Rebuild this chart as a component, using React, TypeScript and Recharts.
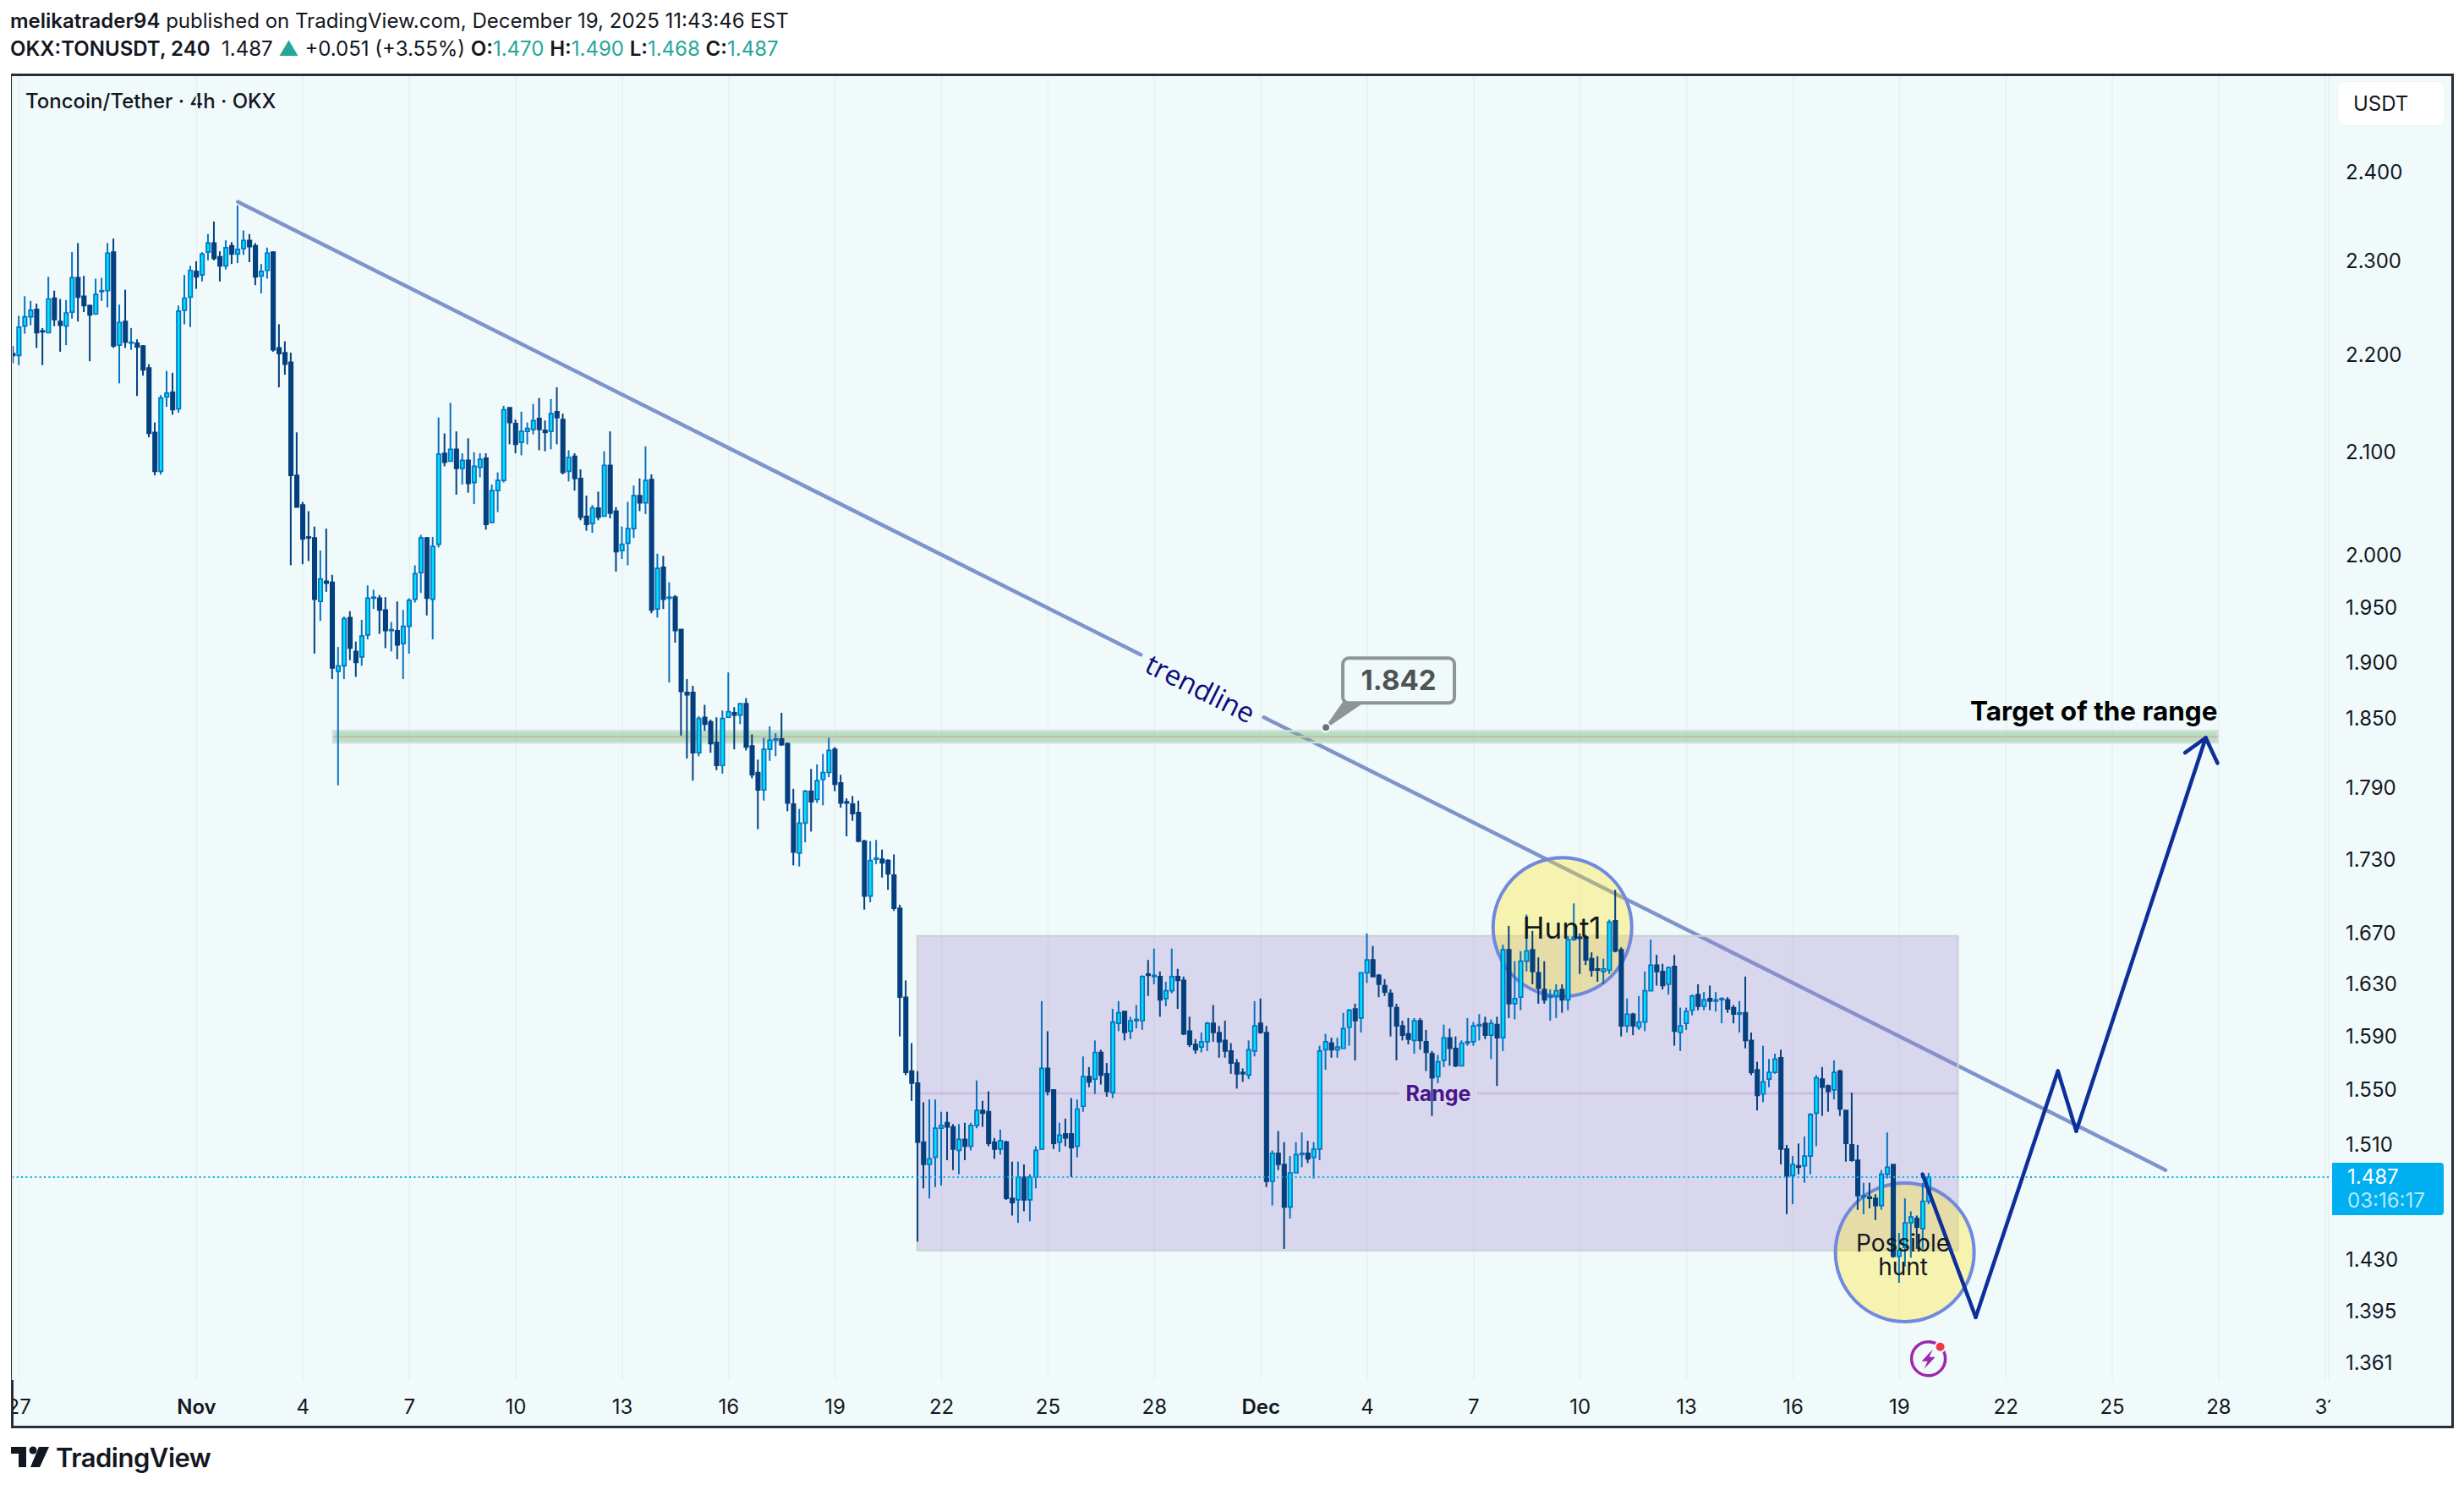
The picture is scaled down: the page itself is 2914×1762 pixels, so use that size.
import React from 'react';
import {
    ComposedChart,
    Bar,
    Cell,
    XAxis,
    YAxis,
    CartesianGrid,
    ReferenceArea,
    ReferenceDot,
    ReferenceLine,
} from 'recharts';

// 4h bars, counted from the Nov 1 open (bar 0). First bar on screen is -31.
const firstBar = -31;

const opens = [
    2.201,2.199,2.230,2.240,2.248,2.225,2.223,2.260,2.235,2.230,
    2.245,2.282,2.262,2.252,2.243,2.267,2.268,2.310,2.210,2.235,
    2.212,2.212,2.209,2.186,2.120,2.081,2.156,2.161,2.144,2.247,
    2.261,2.289,2.285,2.310,2.320,2.305,2.295,2.317,2.308,2.314,
    2.323,2.317,2.284,2.290,2.310,2.207,2.202,2.192,2.077,2.048,
    2.017,2.016,1.956,1.975,1.974,1.892,1.897,1.941,1.910,1.905,
    1.925,1.959,1.959,1.948,1.929,1.929,1.917,1.933,1.958,1.983,
    2.016,1.958,2.010,2.099,2.091,2.103,2.084,2.092,2.070,2.085,
    2.094,2.031,2.062,2.072,2.145,2.129,2.110,2.121,2.123,2.134,
    2.122,2.121,2.141,2.133,2.081,2.096,2.074,2.037,2.030,2.045,
    2.037,2.087,2.042,2.004,2.011,2.025,2.057,2.050,2.073,1.949,
    1.988,1.959,1.960,1.930,1.873,1.873,1.820,1.851,1.847,1.829,
    1.809,1.851,1.855,1.853,1.863,1.826,1.803,1.788,1.823,1.831,
    1.832,1.828,1.776,1.735,1.760,1.787,1.780,1.797,1.803,1.823,
    1.794,1.778,1.776,1.769,1.745,1.700,1.730,1.730,1.729,1.717,
    1.690,1.620,1.564,1.555,1.512,1.496,1.501,1.522,1.526,1.523,
    1.506,1.514,1.509,1.524,1.535,1.534,1.512,1.507,1.512,1.472,
    1.471,1.487,1.471,1.487,1.507,1.566,1.550,1.512,1.518,1.518,
    1.509,1.538,1.560,1.558,1.578,1.562,1.548,1.600,1.609,1.594,
    1.602,1.602,1.638,1.636,1.636,1.619,1.625,1.636,1.633,1.594,
    1.584,1.582,1.586,1.600,1.593,1.587,1.579,1.570,1.563,1.561,
    1.579,1.600,1.593,1.484,1.504,1.496,1.466,1.490,1.503,1.504,
    1.501,1.507,1.580,1.585,1.580,1.581,1.597,1.611,1.604,1.639,
    1.649,1.637,1.629,1.623,1.612,1.598,1.592,1.587,1.602,1.586,
    1.577,1.560,1.572,1.589,1.581,1.568,1.585,1.586,1.598,1.600,
    1.591,1.599,1.589,1.657,1.615,1.620,1.648,1.657,1.639,1.626,
    1.620,1.621,1.626,1.618,1.665,1.667,1.666,1.650,1.642,1.640,
    1.641,1.680,1.657,1.598,1.607,1.597,1.601,1.625,1.645,1.640,
    1.630,1.644,1.593,1.600,1.610,1.622,1.613,1.619,1.617,1.618,
    1.618,1.612,1.607,1.608,1.587,1.565,1.547,1.558,1.563,1.574,
    1.507,1.488,1.495,1.495,1.502,1.533,1.558,1.553,1.550,1.564,
    1.535,1.510,1.499,1.473,1.473,1.472,1.467,1.489,1.496,1.432,
    1.438,1.455,1.458,1.451,1.470,
];

const closes = [
    2.199,2.229,2.240,2.247,2.223,2.224,2.259,2.237,2.231,2.244,
    2.282,2.261,2.252,2.242,2.264,2.268,2.309,2.209,2.234,2.213,
    2.213,2.208,2.184,2.119,2.081,2.155,2.160,2.143,2.246,2.260,
    2.290,2.283,2.308,2.320,2.303,2.295,2.315,2.308,2.313,2.323,
    2.316,2.283,2.289,2.309,2.205,2.201,2.190,2.077,2.046,2.015,
    2.016,1.958,1.977,1.973,1.895,1.897,1.940,1.913,1.900,1.924,
    1.959,1.960,1.948,1.929,1.930,1.916,1.933,1.957,1.982,2.016,
    1.959,2.008,2.098,2.090,2.103,2.084,2.092,2.069,2.086,2.093,
    2.029,2.062,2.072,2.143,2.130,2.108,2.121,2.124,2.132,2.123,
    2.120,2.139,2.135,2.080,2.095,2.074,2.036,2.029,2.045,2.036,
    2.087,2.040,2.003,2.010,2.025,2.057,2.050,2.072,1.948,1.987,
    1.958,1.960,1.929,1.874,1.871,1.820,1.850,1.845,1.828,1.809,
    1.850,1.856,1.853,1.863,1.825,1.801,1.788,1.823,1.831,1.832,
    1.827,1.777,1.736,1.760,1.787,1.778,1.796,1.803,1.822,1.793,
    1.777,1.777,1.768,1.745,1.700,1.729,1.731,1.727,1.718,1.690,
    1.620,1.563,1.555,1.512,1.496,1.500,1.522,1.524,1.523,1.507,
    1.514,1.509,1.524,1.535,1.533,1.511,1.507,1.513,1.472,1.469,
    1.487,1.471,1.487,1.506,1.566,1.549,1.511,1.517,1.515,1.508,
    1.536,1.560,1.556,1.578,1.561,1.549,1.601,1.608,1.593,1.602,
    1.603,1.636,1.637,1.637,1.618,1.625,1.636,1.633,1.592,1.584,
    1.580,1.586,1.600,1.593,1.586,1.579,1.570,1.562,1.562,1.580,
    1.598,1.593,1.484,1.504,1.496,1.466,1.490,1.503,1.504,1.500,
    1.507,1.579,1.586,1.580,1.582,1.596,1.610,1.602,1.639,1.649,
    1.636,1.630,1.624,1.613,1.598,1.591,1.588,1.602,1.587,1.578,
    1.559,1.571,1.589,1.581,1.568,1.585,1.586,1.598,1.599,1.591,
    1.600,1.589,1.657,1.615,1.619,1.648,1.656,1.640,1.627,1.618,
    1.621,1.625,1.618,1.665,1.667,1.666,1.649,1.641,1.641,1.642,
    1.679,1.656,1.598,1.607,1.598,1.601,1.625,1.645,1.640,1.629,
    1.643,1.594,1.598,1.609,1.621,1.613,1.618,1.617,1.618,1.619,
    1.611,1.607,1.608,1.587,1.563,1.546,1.556,1.563,1.573,1.507,
    1.488,1.496,1.494,1.502,1.532,1.559,1.552,1.549,1.563,1.536,
    1.511,1.499,1.474,1.474,1.472,1.467,1.489,1.494,1.432,1.436,
    1.455,1.459,1.452,1.470,1.487,
];

const highs = [
    2.209,2.241,2.262,2.257,2.254,2.228,2.283,2.268,2.259,2.258,
    2.310,2.320,2.284,2.253,2.281,2.282,2.320,2.325,2.253,2.269,
    2.228,2.216,2.210,2.190,2.130,2.158,2.183,2.181,2.252,2.285,
    2.295,2.300,2.310,2.330,2.344,2.311,2.323,2.321,2.362,2.334,
    2.330,2.320,2.297,2.315,2.311,2.232,2.214,2.202,2.120,2.051,
    2.042,2.027,2.004,2.025,1.981,1.914,1.942,1.947,1.919,1.939,
    1.971,1.967,1.962,1.960,1.937,1.956,1.948,1.959,1.990,2.019,
    2.017,2.017,2.135,2.119,2.150,2.121,2.099,2.114,2.100,2.099,
    2.099,2.068,2.080,2.147,2.145,2.133,2.141,2.130,2.149,2.155,
    2.132,2.154,2.166,2.139,2.102,2.099,2.083,2.057,2.048,2.061,
    2.101,2.121,2.046,2.027,2.051,2.067,2.074,2.106,2.078,2.001,
    1.999,1.974,1.962,1.930,1.885,1.879,1.852,1.862,1.849,1.851,
    1.857,1.891,1.860,1.863,1.868,1.836,1.814,1.833,1.843,1.837,
    1.855,1.829,1.789,1.772,1.788,1.806,1.810,1.819,1.833,1.825,
    1.801,1.781,1.783,1.779,1.746,1.745,1.746,1.738,1.730,1.734,
    1.693,1.633,1.585,1.564,1.541,1.543,1.543,1.534,1.534,1.525,
    1.525,1.526,1.526,1.557,1.542,1.549,1.515,1.521,1.513,1.498,
    1.498,1.496,1.489,1.509,1.617,1.594,1.550,1.526,1.529,1.544,
    1.543,1.575,1.567,1.587,1.580,1.570,1.611,1.617,1.609,1.605,
    1.614,1.637,1.649,1.658,1.640,1.632,1.658,1.642,1.636,1.605,
    1.588,1.593,1.601,1.614,1.598,1.602,1.585,1.573,1.566,1.587,
    1.617,1.619,1.598,1.506,1.520,1.512,1.502,1.512,1.519,1.513,
    1.512,1.583,1.592,1.589,1.589,1.608,1.611,1.615,1.639,1.670,
    1.660,1.638,1.634,1.626,1.615,1.602,1.604,1.604,1.604,1.595,
    1.579,1.576,1.599,1.596,1.590,1.587,1.604,1.601,1.607,1.605,
    1.603,1.605,1.661,1.676,1.648,1.656,1.685,1.672,1.651,1.648,
    1.626,1.630,1.630,1.668,1.694,1.670,1.669,1.655,1.652,1.650,
    1.681,1.705,1.659,1.619,1.608,1.621,1.640,1.665,1.653,1.646,
    1.644,1.653,1.612,1.612,1.622,1.630,1.624,1.629,1.624,1.620,
    1.620,1.614,1.617,1.636,1.593,1.571,1.583,1.573,1.577,1.580,
    1.510,1.502,1.511,1.516,1.533,1.561,1.567,1.554,1.572,1.565,
    1.535,1.548,1.510,1.483,1.483,1.475,1.492,1.519,1.496,1.448,
    1.472,1.463,1.460,1.483,1.490,
];

const lows = [
    2.191,2.189,2.222,2.231,2.207,2.189,2.223,2.230,2.203,2.210,
    2.238,2.235,2.245,2.193,2.242,2.257,2.250,2.207,2.170,2.207,
    2.205,2.157,2.178,2.115,2.077,2.078,2.146,2.138,2.140,2.232,
    2.229,2.270,2.278,2.301,2.301,2.278,2.291,2.297,2.298,2.307,
    2.299,2.274,2.265,2.281,2.203,2.166,2.179,1.990,2.046,1.991,
    1.994,1.908,1.938,1.965,1.885,1.792,1.885,1.902,1.887,1.897,
    1.921,1.949,1.926,1.913,1.910,1.903,1.885,1.908,1.955,1.964,
    1.943,1.921,2.007,2.086,2.091,2.058,2.068,2.060,2.049,2.075,
    2.024,2.031,2.041,2.070,2.108,2.099,2.097,2.108,2.118,2.102,
    2.101,2.103,2.108,2.078,2.071,2.062,2.033,2.023,2.021,2.033,
    2.037,2.035,1.984,1.996,1.990,2.016,2.042,2.039,1.945,1.941,
    1.949,1.882,1.918,1.835,1.815,1.796,1.817,1.839,1.820,1.805,
    1.802,1.851,1.823,1.845,1.822,1.798,1.755,1.779,1.813,1.817,
    1.826,1.770,1.725,1.724,1.744,1.753,1.777,1.775,1.799,1.787,
    1.773,1.749,1.762,1.744,1.689,1.695,1.726,1.715,1.705,1.688,
    1.590,1.561,1.542,1.442,1.479,1.472,1.480,1.481,1.499,1.492,
    1.489,1.499,1.506,1.522,1.523,1.509,1.500,1.503,1.471,1.460,
    1.455,1.463,1.456,1.479,1.507,1.546,1.507,1.505,1.509,1.487,
    1.501,1.534,1.552,1.547,1.554,1.545,1.544,1.594,1.587,1.588,
    1.596,1.595,1.621,1.630,1.605,1.613,1.623,1.611,1.591,1.582,
    1.577,1.578,1.579,1.586,1.574,1.574,1.562,1.551,1.556,1.558,
    1.575,1.592,1.480,1.467,1.492,1.437,1.458,1.490,1.494,1.497,
    1.486,1.499,1.565,1.574,1.574,1.581,1.583,1.572,1.593,1.631,
    1.636,1.620,1.621,1.590,1.572,1.587,1.584,1.577,1.580,1.564,
    1.531,1.555,1.567,1.568,1.567,1.568,1.583,1.583,1.587,1.588,
    1.573,1.553,1.579,1.604,1.603,1.610,1.640,1.630,1.615,1.615,
    1.602,1.604,1.608,1.610,1.664,1.638,1.645,1.636,1.632,1.630,
    1.638,1.655,1.590,1.593,1.591,1.595,1.594,1.625,1.629,1.626,
    1.622,1.583,1.579,1.595,1.606,1.610,1.610,1.610,1.609,1.600,
    1.608,1.600,1.593,1.581,1.561,1.535,1.541,1.552,1.562,1.496,
    1.461,1.468,1.489,1.483,1.489,1.509,1.531,1.534,1.543,1.531,
    1.498,1.498,1.464,1.461,1.465,1.457,1.464,1.486,1.431,1.414,
    1.425,1.431,1.437,1.437,1.468,
];

const priceTicks = [2.4, 2.3, 2.2, 2.1, 2.0, 1.95, 1.9, 1.85, 1.79, 1.73, 1.67, 1.63, 1.59, 1.55, 1.51, 1.43, 1.395, 1.361];
const timeTicks = [-30, 0, 18, 36, 54, 72, 90, 108, 126, 144, 162, 180, 198, 216, 234, 252, 270, 288, 306, 324, 342, 360];
const timeLabels = ['27', 'Nov', '4', '7', '10', '13', '16', '19', '22', '25', '28', 'Dec', '4', '7', '10', '13', '16', '19', '22', '25', '28', '31'];

const lastPrice = 1.487;

// drawings, as [bar, price] anchors
const trendlineA = [[7, 2.366], [159.7, 1.907]];
const trendlineB = [[180.5, 1.851], [333, 1.492]];
const projection = [[291.9, 1.489], [300.9, 1.391], [314.8, 1.564], [317.9, 1.520], [339.8, 1.833]];
const arrowHead = [[336.3, 1.820], [339.8, 1.833], [341.8, 1.811]];

const candles = opens.map((open, i) => ({
    bar: firstBar + i,
    wick: [lows[i], highs[i]],
    body: [Math.min(open, closes[i]), Math.max(open, closes[i])],
    up: closes[i] >= open,
}));

const UP_WICK = '#0672c2';
const UP_FILL = '#00e0fb';
const DOWN = '#04407f';
const INK = '#131722';
const FONT = 'Inter, "Noto Sans", sans-serif';
const BAR_DOMAIN = [-31.1, 360.6];
const PRICE_DOMAIN = [1.35, 2.512];

const toSegment = (points: number[][]) =>
    points.slice(1).map((p, i) => [
        { x: points[i][0], y: points[i][1] },
        { x: p[0], y: p[1] },
    ]);

const TimeTick = ({ x, y, payload }: any) => {
    const label = timeLabels[timeTicks.indexOf(payload.value)];
    const bold = label === 'Nov' || label === 'Dec';
    return (
        <text
            x={x}
            y={y + 23}
            textAnchor="middle"
            dominantBaseline="central"
            clipPath="url(#timeClip)"
            fontFamily={FONT}
            fontSize={24}
            fontWeight={bold ? 600 : 400}
            fill={INK}
        >
            {label}
        </text>
    );
};

// text pinned to a bar/price anchor through a zero-size ReferenceDot
const note = (lines: string[], style: any, rotate = 0) => (props: any) => (
    <g transform={`translate(${props.cx} ${props.cy}) rotate(${rotate})`}>
        {lines.map((line, i) => (
            <text key={line} y={i * style.lineHeight || 0} dominantBaseline="central" {...style.attrs}>
                {line}
            </text>
        ))}
    </g>
);

const Callout = (props: any) => (
    <g transform={`translate(${props.cx} ${props.cy})`}>
        <path d="M0 0 L21 -30 L44 -30 Z" fill="#8e9596" stroke="#8e9596" strokeWidth={2} />
        <rect x={20} y={-82} width={132} height={53} rx={7} fill="#f1fafb" stroke="#8e9596" strokeWidth={4} />
        <circle r={5} fill="#6c7273" stroke="#ffffff" strokeWidth={2} />
        <text x={86} y={-56} textAnchor="middle" dominantBaseline="central" fontFamily={FONT} fontSize={33} fontWeight={700} fill="#4f5354">
            1.842
        </text>
    </g>
);

const BoltIcon = (props: any) => (
    <g transform={`translate(${props.cx} ${props.cy})`}>
        <circle r={20} fill="#f1fafb" stroke="#9c27b0" strokeWidth={3.5} />
        <path d="M5 -11 L-8 3 L-1 3 L-5 12 L8 -2 L1 -2 Z" fill="#9c27b0" />
        <circle cx={14} cy={-14} r={6} fill="#f23645" stroke="#f1fafb" strokeWidth={2} />
    </g>
);

const App = () => {
    return (
        <div style={{ position: 'absolute', left: 0, top: 0, width: 2914, height: 1762, background: '#ffffff', overflow: 'hidden', fontFamily: FONT, color: INK }}>
            <svg width={0} height={0} style={{ position: 'absolute' }}>
                <defs>
                    <clipPath id="timeClip">
                        <rect x={15} y={1632} width={2741} height={60} />
                    </clipPath>
                </defs>
            </svg>

            <div style={{ position: 'absolute', left: 12, top: 8, fontSize: 24, whiteSpace: 'nowrap', lineHeight: '34px' }}>
                <b style={{ fontWeight: 600 }}>melikatrader94</b> published on TradingView.com, December 19, 2025 11:43:46 EST
            </div>
            <div style={{ position: 'absolute', left: 12, top: 41, fontSize: 24, whiteSpace: 'nowrap', lineHeight: '34px' }}>
                <b style={{ fontWeight: 600 }}>OKX:TONUSDT, 240</b>&nbsp; 1.487 <span style={{ color: '#26a69a' }}>▲</span> +0.051 (+3.55%) <b style={{ fontWeight: 600 }}>O:</b>
                <span style={{ color: '#26a69a' }}>1.470</span> <b style={{ fontWeight: 600 }}>H:</b>
                <span style={{ color: '#26a69a' }}>1.490</span> <b style={{ fontWeight: 600 }}>L:</b>
                <span style={{ color: '#26a69a' }}>1.468</span> <b style={{ fontWeight: 600 }}>C:</b>
                <span style={{ color: '#26a69a' }}>1.487</span>
            </div>

            <div style={{ position: 'absolute', left: 13, top: 87, width: 2889, height: 1602, boxSizing: 'border-box', border: '3px solid #2a2e39', background: '#f1fafb' }} />

            <div style={{ position: 'absolute', left: 30, top: 103, fontSize: 24, fontWeight: 500, lineHeight: '34px', whiteSpace: 'nowrap' }}>
                Toncoin/Tether · 4h · OKX
            </div>

            <div style={{ position: 'absolute', left: 0, top: 0 }}>
                <ComposedChart
                    width={2914}
                    height={1762}
                    data={candles}
                    barGap={0}
                    margin={{ top: 90, right: 13, bottom: 73, left: 15 }}
                >
                    <CartesianGrid horizontal={false} stroke="#e8f2f4" strokeWidth={2} />
                    <XAxis
                        dataKey="bar"
                        type="number"
                        domain={BAR_DOMAIN}
                        allowDataOverflow
                        ticks={timeTicks}
                        interval={0}
                        height={57}
                        axisLine={false}
                        tickLine={false}
                        tick={<TimeTick />}
                    />
                    <XAxis
                        xAxisId="body"
                        dataKey="bar"
                        type="number"
                        domain={BAR_DOMAIN}
                        allowDataOverflow
                        ticks={timeTicks}
                        hide
                    />
                    <YAxis
                        orientation="right"
                        scale="log"
                        domain={PRICE_DOMAIN}
                        allowDataOverflow
                        ticks={priceTicks}
                        interval={0}
                        width={147}
                        axisLine={false}
                        tickLine={false}
                        tickMargin={14}
                        tickFormatter={(v: number) => v.toFixed(3)}
                        tick={{ fill: INK, fontSize: 24, fontFamily: FONT }}
                    />

                    {[...toSegment(trendlineA), ...toSegment(trendlineB)].map((segment, i) => (
                        <ReferenceLine key={`trend${i}`} segment={segment} stroke="#7f93cc" strokeWidth={4.5} strokeLinecap="round" zIndex={50} />
                    ))}

                    <ReferenceArea x1={121.9} x2={297.9} y1={1.436} y2={1.668} fill="rgb(158,135,205)" fillOpacity={0.3} stroke="#c9d3d1" strokeWidth={2} zIndex={100} />
                    <ReferenceLine segment={[{ x: 121.9, y: 1.5475 }, { x: 203.4, y: 1.5475 }]} stroke="#cdb6e4" strokeWidth={2.5} zIndex={110} />
                    <ReferenceLine segment={[{ x: 216.6, y: 1.5475 }, { x: 297.9, y: 1.5475 }]} stroke="#cdb6e4" strokeWidth={2.5} zIndex={110} />

                    <ReferenceArea x1={23.1} x2={341.8} y1={1.829} y2={1.839} fill="rgb(111,192,124)" fillOpacity={0.45} stroke="#d3dcd9" strokeWidth={2.5} zIndex={100} />
                    <ReferenceLine segment={[{ x: 23.1, y: 1.834 }, { x: 341.8, y: 1.834 }]} stroke="#c9bda8" strokeWidth={2.5} zIndex={110} />

                    <ReferenceDot x={231} y={1.675} r={82} fill="rgb(254,230,37)" fillOpacity={0.35} stroke="#7089de" strokeWidth={4} zIndex={150} />
                    <ReferenceDot x={288.9} y={1.4347} r={82} fill="rgb(254,230,37)" fillOpacity={0.35} stroke="#7089de" strokeWidth={4} zIndex={150} />

                    <Bar dataKey="wick" barSize={2} isAnimationActive={false} zIndex={300}>
                        {candles.map((c) => (
                            <Cell key={c.bar} fill={c.up ? UP_WICK : DOWN} />
                        ))}
                    </Bar>
                    <Bar dataKey="body" xAxisId="body" barSize={4.4} isAnimationActive={false} zIndex={310}>
                        {candles.map((c) => (
                            <Cell key={c.bar} fill={c.up ? UP_FILL : DOWN} stroke={c.up ? UP_WICK : DOWN} strokeWidth={1.7} />
                        ))}
                    </Bar>

                    <ReferenceLine y={lastPrice} stroke="#00aff0" strokeWidth={2} strokeDasharray="2 3.4" zIndex={700} />

                    {[...toSegment(projection), ...toSegment(arrowHead)].map((segment, i) => (
                        <ReferenceLine key={`path${i}`} segment={segment} stroke="#0d2f9a" strokeWidth={4.5} strokeLinecap="round" zIndex={800} />
                    ))}

                    <ReferenceDot x={169.8} y={1.877} r={0} zIndex={900}
                        shape={note(['trendline'], { attrs: { textAnchor: 'middle', fontFamily: '"Open Sans", sans-serif', fontSize: 33, fill: '#0c0c7c' } }, 26.7)} />
                    <ReferenceDot x={230.9} y={1.6745} r={0} zIndex={900}
                        shape={note(['Hunt1'], { attrs: { textAnchor: 'middle', fontFamily: FONT, fontSize: 35, fill: INK } })} />
                    <ReferenceDot x={288.6} y={1.441} r={0} zIndex={900}
                        shape={note(['Possible', 'hunt'], { lineHeight: 28, attrs: { textAnchor: 'middle', fontFamily: FONT, fontSize: 28, fill: INK } })} />
                    <ReferenceDot x={210} y={1.5475} r={0} zIndex={900}
                        shape={note(['Range'], { attrs: { textAnchor: 'middle', fontFamily: FONT, fontSize: 25, fontWeight: 700, fill: '#4a148c' } })} />
                    <ReferenceDot x={341.8} y={1.857} r={0} zIndex={900}
                        shape={note(['Target of the range'], { attrs: { textAnchor: 'end', fontFamily: FONT, fontSize: 31.5, fontWeight: 700, fill: '#000000' } })} />
                    <ReferenceDot x={191} y={1.842} r={0} zIndex={900} shape={Callout} />
                    <ReferenceDot x={292.9} y={1.3638} r={0} zIndex={900} shape={BoltIcon} />
                </ComposedChart>
            </div>

            <div style={{ position: 'absolute', left: 2764, top: 96, width: 128, height: 53, boxSizing: 'border-box', background: '#ffffff', borderRadius: 9, border: '1px solid #eef3f5', fontSize: 24, lineHeight: '51px', paddingLeft: 18 }}>
                USDT
            </div>

            <div style={{ position: 'absolute', left: 2758, top: 1375, width: 132, height: 62, background: '#00aff0', borderRadius: '0 4px 4px 0', color: '#ffffff', fontSize: 24, paddingLeft: 18, boxSizing: 'border-box', lineHeight: '28px', paddingTop: 3 }}>
                <div>1.487</div>
                <div style={{ color: 'rgba(255,255,255,0.72)' }}>03:16:17</div>
            </div>

            <svg width={60} height={40} style={{ position: 'absolute', left: 0, top: 1704 }}>
                <path d="M13 7 H31 V31 H22 V15 H13 Z" fill={INK} />
                <circle cx={39} cy={11} r={4.5} fill={INK} />
                <path d="M46 7 H58 L47 31 H36 Z" fill={INK} />
            </svg>
            <div style={{ position: 'absolute', left: 66, top: 1703, fontSize: 31, fontWeight: 600, lineHeight: '42px', letterSpacing: -0.5, whiteSpace: 'nowrap' }}>
                TradingView
            </div>
        </div>
    );
};

export default App;
